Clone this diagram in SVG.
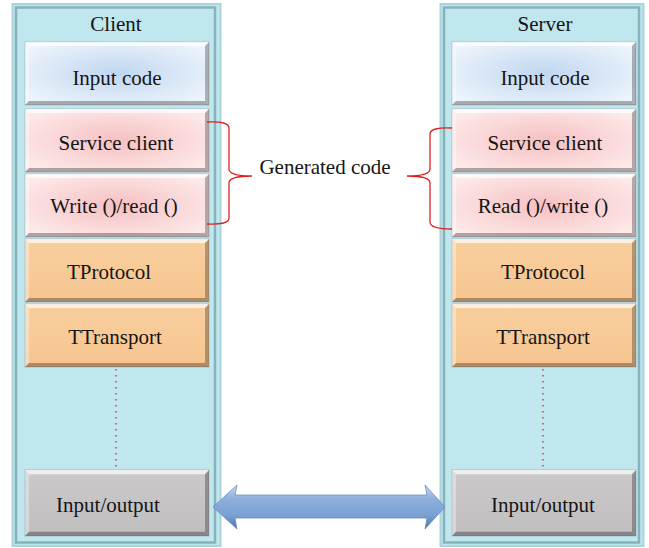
<svg xmlns="http://www.w3.org/2000/svg" xmlns:xlink="http://www.w3.org/1999/xlink" width="649" height="548" viewBox="0 0 649 548">
  <style>
    text { font-family: "Liberation Serif", "Times New Roman", serif; font-size: 21px; fill: #151515; text-anchor: middle; }
    .panel-out { fill: #c0e6ee; stroke: #aad4dc; stroke-width: 2; }
    .panel-in { fill: none; stroke: #86b2bb; stroke-width: 2.5; }
    .box { stroke: #8f9aa0; stroke-width: 0.8; stroke-opacity: 0.6; }
    .code { fill: url(#gBlue); }
    .gen { fill: url(#gPink); }
    .stack { fill: url(#gOrange); }
    .io { fill: url(#gGrey); }
    .brace { fill: none; stroke: #e02020; stroke-width: 1.3; }
    .dots { stroke: #d03a3a; stroke-width: 1.4; stroke-dasharray: 1.4 4.6; }
  </style>
  <defs>
    <radialGradient id="gBlue" cx="0.5" cy="0.5" r="0.6">
      <stop offset="0" stop-color="#c0d6ef"/>
      <stop offset="1" stop-color="#ecf4fc"/>
    </radialGradient>
    <radialGradient id="gPink" cx="0.5" cy="0.5" r="0.6">
      <stop offset="0" stop-color="#f6c0c2"/>
      <stop offset="1" stop-color="#fde9e9"/>
    </radialGradient>
    <linearGradient id="gOrange" x1="0" y1="0" x2="0" y2="1">
      <stop offset="0" stop-color="#f9cf9e"/>
      <stop offset="1" stop-color="#f6c590"/>
    </linearGradient>
    <linearGradient id="gGrey" x1="0" y1="0" x2="0" y2="1">
      <stop offset="0" stop-color="#cbc9ca"/>
      <stop offset="1" stop-color="#c0bebf"/>
    </linearGradient>
    <linearGradient id="gArrow" x1="0" y1="0" x2="0" y2="1">
      <stop offset="0" stop-color="#c4d8f2"/>
      <stop offset="0.3" stop-color="#8eb0de"/>
      <stop offset="0.7" stop-color="#7a9fd2"/>
      <stop offset="1" stop-color="#4f74a8"/>
    </linearGradient>
    <!-- bevelled edge overlay for a 184 x 63 box -->
    <g id="bevel">
      <polygon points="0,0 184,0 180,4 4,4" fill="#ffffff" fill-opacity="0.7"/>
      <polygon points="0,0 4,4 4,59 0,63" fill="#ffffff" fill-opacity="0.35"/>
      <polygon points="184,0 184,63 180,59 180,4" fill="#000000" fill-opacity="0.28"/>
      <polygon points="0,63 184,63 180,59 4,59" fill="#000000" fill-opacity="0.3"/>
    </g>
  </defs>

  <rect width="649" height="548" fill="#ffffff"/>

  <!-- Client stack -->
  <g id="client">
    <rect class="panel-out" x="12.5" y="4" width="208" height="542"/>
    <rect class="panel-in" x="16" y="7.5" width="199" height="535"/>
    <text x="116" y="31">Client</text>
  </g>
  <g id="client-input-code" transform="translate(25,42)">
    <rect class="box code" width="184" height="63"/><use xlink:href="#bevel"/>
    <text x="92" y="43">Input code</text>
  </g>
  <g id="client-service" transform="translate(25,109)">
    <rect class="box gen" width="184" height="63"/><use xlink:href="#bevel"/>
    <text x="91" y="41">Service client</text>
  </g>
  <g id="client-write-read" transform="translate(25,174)">
    <rect class="box gen" width="184" height="63"/><use xlink:href="#bevel"/>
    <text x="89" y="39">Write ()/read ()</text>
  </g>
  <g id="client-tprotocol" transform="translate(25,239)">
    <rect class="box stack" width="184" height="63"/><use xlink:href="#bevel"/>
    <text x="84" y="40">TProtocol</text>
  </g>
  <g id="client-ttransport" transform="translate(25,304)">
    <rect class="box stack" width="184" height="63"/><use xlink:href="#bevel"/>
    <text x="90" y="40">TTransport</text>
  </g>
  <g id="client-io" transform="translate(25,470)">
    <rect class="box io" width="184" height="66"/><use xlink:href="#bevel" transform="scale(1,1.0476)"/>
    <text x="83" y="42">Input/output</text>
  </g>

  <!-- Server stack -->
  <g id="server">
    <rect class="panel-out" x="440.5" y="4" width="203" height="542"/>
    <rect class="panel-in" x="444" y="7.5" width="195" height="535"/>
    <text x="545" y="31">Server</text>
  </g>
  <g id="server-input-code" transform="translate(452,42)">
    <rect class="box code" width="184" height="63"/><use xlink:href="#bevel"/>
    <text x="93" y="43">Input code</text>
  </g>
  <g id="server-service" transform="translate(452,109)">
    <rect class="box gen" width="184" height="63"/><use xlink:href="#bevel"/>
    <text x="93" y="41">Service client</text>
  </g>
  <g id="server-read-write" transform="translate(452,174)">
    <rect class="box gen" width="184" height="63"/><use xlink:href="#bevel"/>
    <text x="91" y="39">Read ()/write ()</text>
  </g>
  <g id="server-tprotocol" transform="translate(452,239)">
    <rect class="box stack" width="184" height="63"/><use xlink:href="#bevel"/>
    <text x="91" y="40">TProtocol</text>
  </g>
  <g id="server-ttransport" transform="translate(452,304)">
    <rect class="box stack" width="184" height="63"/><use xlink:href="#bevel"/>
    <text x="91" y="40">TTransport</text>
  </g>
  <g id="server-io" transform="translate(452,470)">
    <rect class="box io" width="184" height="66"/><use xlink:href="#bevel" transform="scale(1,1.0476)"/>
    <text x="91" y="42">Input/output</text>
  </g>

  <g id="generated-code">
    <text x="325" y="174">Generated code</text>
  </g>

  <!-- connectors: braces, elided layers, link between the two I/O layers -->
  <g id="connectors">
    <path class="brace" d="M207,122 Q229,121 229,128 L229,169 Q229,176 252,176 Q229,176 229,183 L229,218 Q229,225 207,224"/>
    <path class="brace" d="M452,128 Q430,127 430,134 L430,169 Q430,176 407,176 Q430,176 430,183 L430,222 Q430,229 452,229"/>
    <line class="dots" x1="116" y1="369" x2="116" y2="469"/>
    <line class="dots" x1="543" y1="369" x2="543" y2="469"/>
    <polygon points="213,507 237,485 235,495 427,495 425,485 445,507 425,529 427,518 235,518 237,529" fill="url(#gArrow)" stroke="#6a8ec0" stroke-width="0.8"/>
  </g>
</svg>
